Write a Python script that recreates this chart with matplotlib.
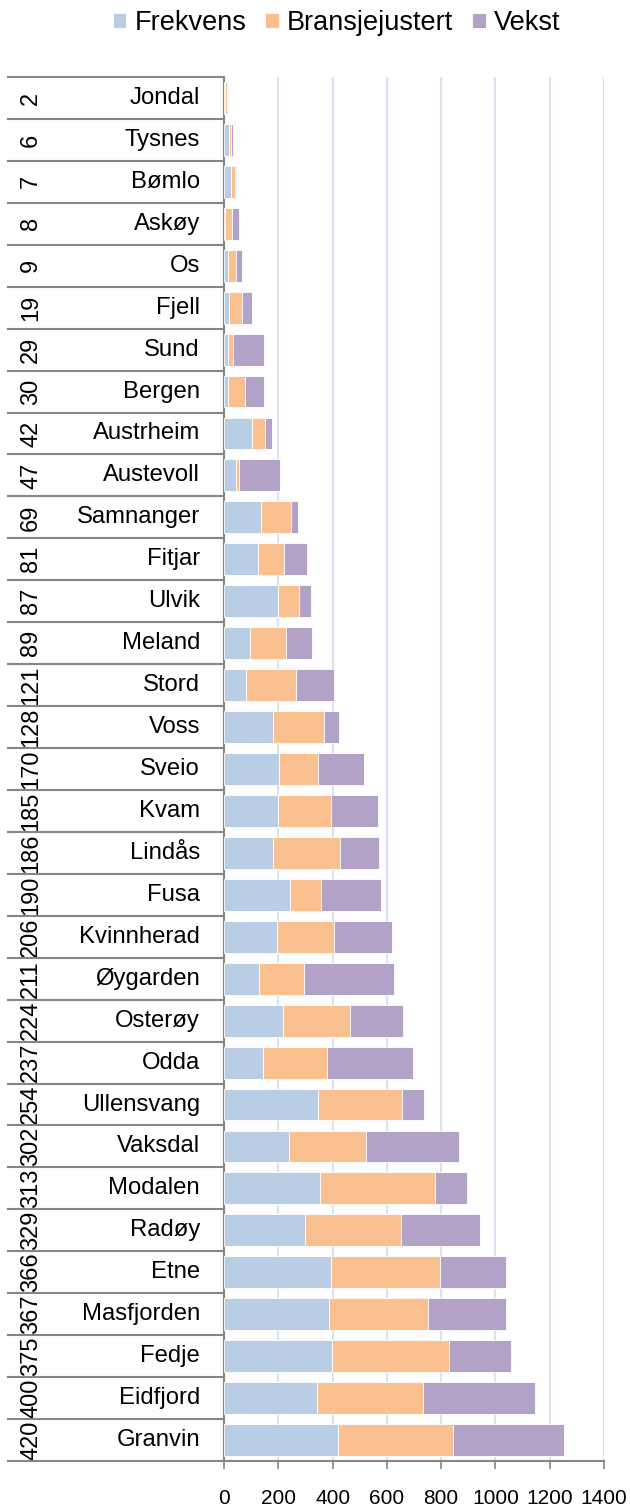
import matplotlib
matplotlib.use("Agg")
import matplotlib.pyplot as plt
import matplotlib.transforms as mtransforms
import numpy as np

plt.rcParams['font.family'] = ['Liberation Sans', 'DejaVu Sans']

# === DATA ===
ranks = [2, 6, 7, 8, 9, 19, 29, 30, 42, 47, 69, 81, 87, 89, 121, 128, 170,
         185, 186, 190, 206, 211, 224, 237, 254, 302, 313, 329, 366, 367,
         375, 400, 420]
kommuner = ['Jondal', 'Tysnes', 'Bømlo', 'Askøy', 'Os', 'Fjell', 'Sund',
            'Bergen', 'Austrheim', 'Austevoll', 'Samnanger', 'Fitjar', 'Ulvik',
            'Meland', 'Stord', 'Voss', 'Sveio', 'Kvam', 'Lindås', 'Fusa',
            'Kvinnherad', 'Øygarden', 'Osterøy', 'Odda', 'Ullensvang',
            'Vaksdal', 'Modalen', 'Radøy', 'Etne', 'Masfjorden', 'Fedje',
            'Eidfjord', 'Granvin']
frekvens = [2, 18, 25, 5, 15, 17, 13, 14, 103, 43, 138, 124, 199, 97, 82, 182,
            204, 198, 182, 244, 197, 130, 219, 144, 345, 238, 352, 300, 393,
            388, 398, 343, 421]
bransje = [10, 6, 15, 25, 29, 49, 19, 62, 47, 12, 109, 96, 76, 131, 183, 186,
           141, 196, 246, 112, 207, 165, 247, 235, 311, 284, 424, 351, 401,
           364, 430, 389, 421]
vekst = [3, 8, 6, 26, 21, 36, 117, 72, 27, 152, 26, 84, 44, 98, 140, 54, 171,
         172, 144, 222, 215, 330, 193, 319, 80, 345, 118, 293, 244, 288, 230,
         414, 412]

COLORS = {'Frekvens': '#B9CDE5', 'Bransjejustert': '#FAC090', 'Vekst': '#B3A2C7'}
GRAY = '#868686'

W, H = 630, 1506
fig = plt.figure(figsize=(W / 100, H / 100), dpi=100)
ax = fig.add_axes([224 / W, 1 - 1461 / H, 380 / W, (1461 - 77) / H])

y = np.arange(len(kommuner))
f = np.array(frekvens)
b = np.array(bransje)
v = np.array(vekst)
ax.barh(y, f, height=0.76, color=COLORS['Frekvens'], edgecolor='white', linewidth=0.6, label='Frekvens', zorder=3)
ax.barh(y, b, left=f, height=0.76, color=COLORS['Bransjejustert'], edgecolor='white', linewidth=0.6, label='Bransjejustert', zorder=3)
ax.barh(y, v, left=f + b, height=0.76, color=COLORS['Vekst'], edgecolor='white', linewidth=0.6, label='Vekst', zorder=3)

ax.set_xlim(0, 1400)
ax.set_ylim(len(kommuner) - 0.5, -0.5)
ax.set_xticks(range(0, 1401, 200))
ax.xaxis.grid(True, color='#DAE4F1', linewidth=1.6, zorder=0)
ax.set_yticks([])
ax.tick_params(axis='x', direction='out', length=6, width=1.2, color=GRAY,
               labelsize=15, pad=14)

for s in ['top', 'right']:
    ax.spines[s].set_visible(False)
for s in ['left', 'bottom']:
    ax.spines[s].set_color(GRAY)
    ax.spines[s].set_linewidth(1.5)

# category table on the left (rank + name)
trans = mtransforms.blended_transform_factory(fig.transFigure, ax.transData)
for i in range(len(kommuner) + 1):
    ax.plot([8 / W, 224 / W], [i - 0.5, i - 0.5], transform=trans, color=GRAY,
            linewidth=1.5, clip_on=False, zorder=4)
for i, (r, k) in enumerate(zip(ranks, kommuner)):
    ax.text(31 / W, i, str(r), transform=trans, rotation=90, ha='center',
            va='center', fontsize=17, clip_on=False)
    ax.text(200 / W, i, k, transform=trans, ha='right', va='center',
            fontsize=17.2, clip_on=False)

fig.legend(loc='center', bbox_to_anchor=(0.534, 1 - 23 / H), ncol=3, frameon=False,
           fontsize=19.5, handlelength=0.5, handleheight=0.5, handletextpad=0.3,
           columnspacing=0.7)

fig.savefig('out.png', dpi=100)
